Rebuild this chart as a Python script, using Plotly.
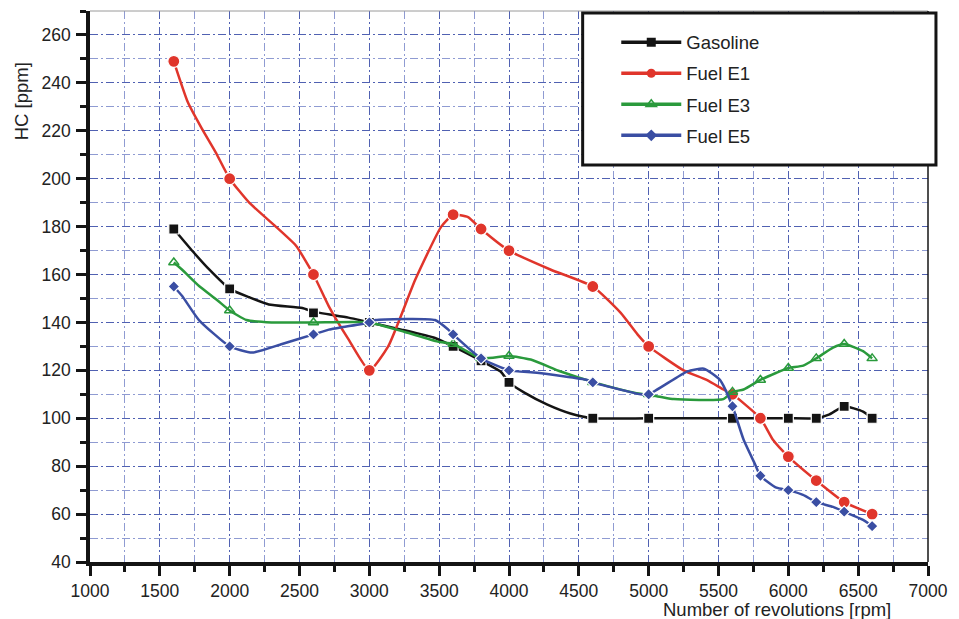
import plotly.graph_objects as go

# ---- data ----
marker_rpm = [1600, 2000, 2600, 3000, 3600, 3800, 4000, 4600, 5000, 5600, 5800, 6000, 6200, 6400, 6600]
gasoline_marks = [179, 154, 144, 140, 130, 124, 115, 100, 100, 100, 100, 100, 100, 105, 100]
e1_marks = [249, 200, 160, 120, 185, 179, 170, 155, 130, 110, 100, 84, 74, 65, 60]
e3_marks = [165, 145, 140, 140, 131, 125, 126, 115, 110, 111, 116, 121, 125, 131, 125]
e5_marks = [155, 130, 135, 140, 135, 125, 120, 115, 110, 105, 76, 70, 65, 61, 55]

# curve traces
gasoline_x = [1600, 1735, 1855, 2000, 2140, 2280, 2520, 2600, 2850, 3000, 3230, 3470, 3600, 3800, 3940,
              4000, 4110, 4275, 4440, 4600, 5000, 5600, 5800, 6000, 6200, 6290, 6400, 6535, 6600]
gasoline_y = [179, 169.7, 162, 154, 150.5, 147.5, 146, 144.5, 142, 140, 137, 133.5, 130, 124, 119.5,
              115, 110.7, 105.7, 102, 100, 100, 100, 100, 100, 100, 101.5, 105, 102.8, 100]

e1_x = [1600, 1700, 1800, 1900, 2000, 2140, 2330, 2475, 2600, 2710, 2850, 3000, 3135, 3330, 3515,
        3600, 3707, 3800, 4000, 4300, 4600, 4800, 4920, 5000, 5250, 5415, 5535, 5600, 5800, 5890, 6000,
        6200, 6400, 6600]
e1_y = [249, 232, 221, 211, 200, 190, 180, 172, 160, 146.7, 133, 120, 130, 158, 180,
        185, 184, 179, 170, 162, 155, 144, 135, 130, 120, 116, 112, 110, 100, 91, 84,
        74, 65, 60]

e3_x = [1600, 1660, 1785, 1905, 2000, 2120, 2300, 2600, 3000, 3255, 3490, 3600, 3800, 4000, 4155, 4370,
        4610, 4896, 5080, 5180, 5535, 5600, 5680, 5800, 5915, 6000, 6107, 6200, 6320, 6400, 6535, 6600]
e3_y = [165, 162, 155, 149.6, 145, 141, 140, 140, 140, 136, 132, 131, 125, 126, 124.5, 119.5,
        115, 110.7, 109, 108, 108, 111, 112, 116, 119, 121, 122, 125, 129.5, 131, 128, 125]

e5_x = [1600, 1660, 1780, 2000, 2160, 2375, 2600, 2710, 3000, 3045, 3470, 3565, 3600, 3800, 4000, 4200,
        4560, 4600, 4940, 5000, 5275, 5395, 5510, 5600, 5680, 5760, 5800, 5915, 6000, 6105, 6200, 6320,
        6400, 6535, 6600]
e5_y = [155, 151, 141, 130, 127.4, 131, 135, 137, 140, 141, 141, 137, 135, 125, 120, 119,
        116, 115, 110, 110, 119.5, 120.7, 116, 105, 91, 81, 76, 71, 70, 68, 65, 63,
        61, 57.6, 55]

x_ticks = [1000, 1500, 2000, 2500, 3000, 3500, 4000, 4500, 5000, 5500, 6000, 6500, 7000]
y_ticks = [40, 60, 80, 100, 120, 140, 160, 180, 200, 220, 240, 260]

series = [
    ("Gasoline", gasoline_x, gasoline_y, gasoline_marks, "#141414", "square", 10, "#141414"),
    ("Fuel E1", e1_x, e1_y, e1_marks, "#e0352b", "circle", 12, "#e0352b"),
    ("Fuel E3", e3_x, e3_y, e3_marks, "#2a9a3c", "triangle-up-open", 9, "#2a9a3c"),
    ("Fuel E5", e5_x, e5_y, e5_marks, "#3a4ea3", "diamond", 9, "#3a4ea3"),
]

FONT = "Liberation Sans, Arial, Helvetica, sans-serif"
fig = go.Figure()

for name, cx, cy, my, color, sym, size, fill in series:
    fig.add_trace(go.Scatter(x=cx, y=cy, mode="lines", line=dict(color=color, width=2.5, shape="spline", smoothing=0.5),
                             showlegend=False, hoverinfo="skip", legendgroup=name))
    mline = dict(color=color, width=1.5) if sym.endswith("open") else dict(color="white", width=1.2)
    fig.add_trace(go.Scatter(x=marker_rpm, y=my, mode="markers", name=name, showlegend=False, legendgroup=name,
                             marker=dict(symbol=sym, size=size, color=fill, line=mline)))

for name, cx, cy, my, color, sym, size, fill in series:
    mline = dict(color=color, width=1.5) if sym.endswith("open") else dict(color=color, width=0)
    fig.add_trace(go.Scatter(x=[None], y=[None], mode="lines+markers", name=name, legendgroup=name,
                             line=dict(color=color, width=3.5),
                             marker=dict(symbol=sym, size=9, color=fill, line=mline)))

grid_major = "#5061b2"
grid_minor = "#8f9bd2"
dash = "8px,3px,2px,3px"

fig.update_xaxes(
    range=[1000, 7000], tickvals=x_ticks, ticktext=[str(v) for v in x_ticks],
    showline=True, linewidth=3.5, linecolor="#141414",
    ticks="outside", ticklen=10, tickwidth=3, tickcolor="#141414",
    showgrid=True, gridcolor=grid_major, griddash=dash, gridwidth=1,
    minor=dict(dtick=250, tick0=1000, ticks="outside", ticklen=6, tickwidth=3, tickcolor="#141414",
               showgrid=True, gridcolor=grid_minor, griddash=dash, gridwidth=1),
    tickfont=dict(family=FONT, size=17.5, color="#222"), zeroline=False, ticklabelstandoff=0,
)
fig.update_yaxes(
    range=[40, 270], tickvals=y_ticks, ticktext=[str(v) for v in y_ticks],
    showline=True, linewidth=3.5, linecolor="#141414",
    ticks="outside", ticklen=10, tickwidth=3, tickcolor="#141414",
    showgrid=True, gridcolor=grid_major, griddash=dash, gridwidth=1,
    minor=dict(dtick=10, tick0=40, ticks="outside", ticklen=6, tickwidth=3, tickcolor="#141414",
               showgrid=True, gridcolor=grid_minor, griddash=dash, gridwidth=1),
    tickfont=dict(family=FONT, size=17.5, color="#222"), zeroline=False, ticklabelstandoff=2,
)

fig.update_layout(
    width=959, height=619,
    margin=dict(l=90, r=27, t=11, b=57),
    paper_bgcolor="white", plot_bgcolor="white",
    font=dict(family=FONT, color="#222"),
    showlegend=True,
    legend=dict(x=0.628, y=0.977, xanchor="left", yanchor="top", bgcolor="rgba(0,0,0,0)",
                borderwidth=0, font=dict(family=FONT, size=18.5, color="#222"),
                itemwidth=60, tracegroupgap=4),
    shapes=[
        dict(type="line", xref="paper", yref="paper", x0=0, x1=1, y0=1, y1=1,
             line=dict(color="#9a9a9a", width=1)),
        dict(type="line", xref="paper", yref="paper", x0=1, x1=1, y0=0, y1=1,
             line=dict(color="#141414", width=1.5)),
        dict(type="rect", xref="paper", yref="paper", x0=0.5879, x1=1.0095, y0=0.7205, y1=0.9964,
             line=dict(color="#141414", width=3), fillcolor="white", layer="above"),
    ],
    annotations=[
        dict(text="HC [ppm]", xref="paper", yref="paper", x=-0.0808, y=0.8367, textangle=-90,
             showarrow=False, font=dict(family=FONT, size=18.5, color="#222"), xanchor="center", yanchor="middle"),
        dict(text="Number of revolutions [rpm]", xref="paper", yref="paper", x=0.8195, y=-0.087,
             showarrow=False, font=dict(family=FONT, size=18.5, color="#222"), xanchor="center", yanchor="middle"),
    ],
)

fig.write_html("out.html", config={"displayModeBar": False},
               post_script="document.body.style.margin='0';document.body.style.padding='0';")
